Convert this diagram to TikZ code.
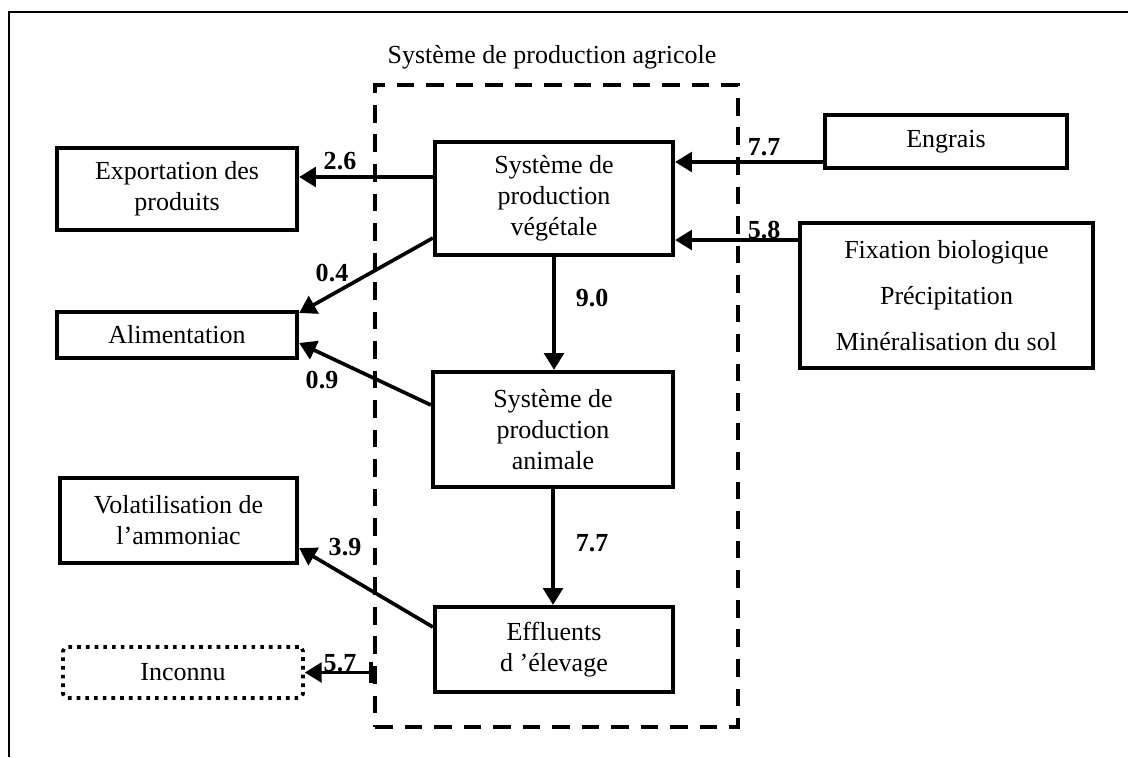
\documentclass[tikz,border=0pt]{standalone}
\usepackage{fontspec}
\setmainfont{Liberation Serif}
\usetikzlibrary{arrows.meta}
\begin{document}
\begin{tikzpicture}[x=0.025cm,y=-0.025cm,
  txt/.style={font=\fontsize{18.5}{22}\selectfont, align=center},
  blk/.style 2 args={draw, line width=3pt, txt, inner sep=0pt,
    minimum width={#1*0.025cm}, minimum height={#2*0.025cm}},
  dotbox/.style 2 args={blk={#1}{#2}, line width=2.6pt, rounded corners=3pt,
    dash pattern=on 2.6pt off 3.6pt},
  sysbox/.style 2 args={draw, line width=2.8pt, inner sep=0pt,
    minimum width={#1*0.025cm}, minimum height={#2*0.025cm},
    dash pattern=on 12.5pt off 8.5pt},
  tip/.style={Triangle[length=12pt,width=14pt]},
  arr/.style={line width=2.6pt, -{Triangle[length=12pt,width=14pt]}},
  num/.style={font=\bfseries\fontsize{18.5}{22}\selectfont, inner sep=0pt},
  frame/.style={line width=1pt}
]
\useasboundingbox (0,0) rectangle (1128,757);
\draw[frame] (9,757) -- (9,12) -- (1128,12);

% system boundary
\node[sysbox={363}{642}] (sys) at (556.5,406) {};
\node[txt, inner sep=0pt] (title) at (552,57) {Système de production agricole};

% inner boxes
\node[blk={238}{113}] (veg) at (554,198.5) {Système de\\production\\végétale};
\node[blk={240}{115}] (ani) at (553,429.5) {Système de\\production\\animale};
\node[blk={238}{85}] (eff) at (554,649.5) {Effluents\\d 'élevage};

% left boxes
\node[blk={240}{82}] (exp) at (177,189) {Exportation des\\produits};
\node[blk={240}{46}] (ali) at (177,335) {Alimentation};
\node[blk={237}{85}] (vol) at (178.5,520.5) {Volatilisation de\\l'ammoniac};
\node[dotbox={240}{51}] (inc) at (183,672.5) {Inconnu};

% right boxes
\node[blk={242}{53}] (eng) at (946,141.5) {Engrais};
\node[blk={293}{145}, font=\fontsize{18.5}{33}\selectfont] (fix) at (946.5,295.5)
  {Fixation biologique\\Précipitation\\Minéralisation du sol};

% helper levels
\coordinate (h1) at (0,162);
\coordinate (h2) at (0,240);
\coordinate (h3) at (0,177);
\coordinate (h4) at (0,238);
\coordinate (h5) at (0,313);
\coordinate (h6) at (0,405);
\coordinate (h7) at (0,343);
\coordinate (h8) at (0,627);
\coordinate (h9) at (0,548);

% connectors
\draw[arr] (eng.west |- h1) -- (veg.east |- h1);
\draw[arr] (fix.west |- h2) -- (veg.east |- h2);
\draw[arr] (veg.west |- h3) -- (exp.east |- h3);
\draw[arr] (veg.west |- h4) -- (ali.east |- h5);
\draw[arr] (ani.west |- h6) -- (ali.east |- h7);
\draw[arr] (veg.south) -- (veg.south |- ani.north);
\draw[arr] (ani.south) -- (ani.south |- eff.north);
\draw[arr] (eff.west |- h8) -- (vol.east |- h9);
\draw[line width=2.6pt, {Bar[width=15pt,line width=2.8pt]}-{Triangle[length=12pt,width=14pt]}]
  (sys.west |- inc.east) -- (inc.east);

% labels
\node[num] (l1) at (764,147) {7.7};
\node[num] (l2) at (764,230) {5.8};
\node[num] (l3) at (340,161) {2.6};
\node[num] (l4) at (332,273) {0.4};
\node[num] (l5) at (322,380) {0.9};
\node[num] (l6) at (592,298) {9.0};
\node[num] (l7) at (592,543) {7.7};
\node[num] (l8) at (345,547) {3.9};
\node[num] (l9) at (340,663) {5.7};
\end{tikzpicture}
\end{document}
